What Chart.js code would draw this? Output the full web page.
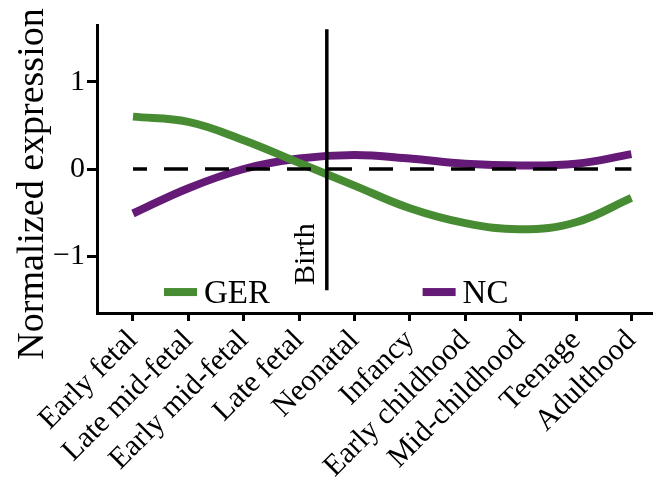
<!DOCTYPE html>
<html>
<head>
<meta charset="utf-8">
<script src="https://cdn.jsdelivr.net/npm/chart.js@4"></script>
<style>
  html, body { margin: 0; padding: 0; background: #fff; }
  #wrap { width: 659px; height: 488px; }
</style>
</head>
<body>
<div id="wrap"><canvas id="myChart" width="659" height="488"></canvas></div>
<script>
"use strict";

// developmental stages on the x axis
const stages = [
  "Early fetal",
  "Late mid-fetal",
  "Early mid-fetal",
  "Late fetal",
  "Neonatal",
  "Infancy",
  "Early childhood",
  "Mid-childhood",
  "Teenage",
  "Adulthood",
];
const gerValues = [0.6, 0.54, 0.33, 0.07, -0.19, -0.45, -0.62, -0.69, -0.61, -0.33];
const ncValues = [-0.51, -0.22, 0.0, 0.12, 0.16, 0.12, 0.06, 0.04, 0.06, 0.17];
const yTicks = [-1, 0, 1];
const birthAt = 3.5;

const serif = "'Liberation Serif', 'Times New Roman', serif";
const green = "#478c33";
const purple = "#651a78";

const toPoints = (vals) => vals.map((v, i) => ({ x: i, y: v }));

// y title, legend and "Birth" label
const extras = {
  id: "extras",
  afterDraw(chart) {
    const c = chart.ctx;
    const xs = chart.scales.x;
    const ys = chart.scales.y;

    c.save();
    c.fillStyle = "#000";
    c.font = "38px " + serif;
    c.textAlign = "center";
    c.textBaseline = "alphabetic";
    c.translate(43, 184);
    c.rotate(-Math.PI / 2);
    c.fillText("Normalized expression", 0, 0);
    c.restore();

    c.save();
    c.fillStyle = "#000";
    c.font = "30px " + serif;
    c.textBaseline = "alphabetic";
    c.translate(xs.getPixelForValue(birthAt) - 13, 285);
    c.rotate(-Math.PI / 2);
    c.fillText("Birth", 0, 0);
    c.restore();

    const items = [
      { label: "GER", color: green, x: 0.56 },
      { label: "NC", color: purple, x: 5.23 },
    ];
    const yy = ys.getPixelForValue(-1.41);
    c.save();
    items.forEach((it) => {
      const x0 = xs.getPixelForValue(it.x);
      c.fillStyle = it.color;
      c.fillRect(x0, yy - 4, 33, 8);
      c.fillStyle = "#000";
      c.font = "33px " + serif;
      c.textBaseline = "middle";
      c.fillText(it.label, x0 + 40, yy + 2);
    });
    c.restore();
  },
};

const ctx = document.getElementById("myChart");

new Chart(ctx, {
  type: "line",
  data: {
    datasets: [
      {
        label: "zero",
        data: [{ x: 0, y: 0 }, { x: 9, y: 0 }],
        borderColor: "#000",
        borderWidth: 3.5,
        borderDash: [24, 17],
        borderDashOffset: 10,
        pointRadius: 0,
      },
      {
        label: "Birth",
        data: [{ x: birthAt, y: -1.39 }, { x: birthAt, y: 1.6 }],
        borderColor: "#000",
        borderWidth: 3.5,
        pointRadius: 0,
      },
      {
        label: "GER",
        data: toPoints(gerValues),
        borderColor: green,
        borderWidth: 8,
        pointRadius: 0,
        tension: 0.4,
      },
      {
        label: "NC",
        data: toPoints(ncValues),
        borderColor: purple,
        borderWidth: 8,
        pointRadius: 0,
        tension: 0.4,
      },
    ],
  },
  options: {
    responsive: false,
    animation: false,
    layout: { padding: { left: 8, top: 25, right: 4, bottom: 0 } },
    plugins: {
      legend: { display: false },
      tooltip: { enabled: false },
    },
    scales: {
      x: {
        type: "linear",
        min: -0.65,
        max: 9.38,
        afterBuildTicks: (s) => {
          s.ticks = stages.map((_, i) => ({ value: i }));
        },
        afterFit: (s) => {
          s.height = 488 - 313;
        },
        ticks: {
          color: "#000",
          font: { family: serif, size: 30 },
          minRotation: 45,
          maxRotation: 45,
          autoSkip: false,
          padding: 2,
          callback: (v) => stages[v],
        },
        grid: {
          display: true,
          drawOnChartArea: false,
          drawTicks: true,
          tickLength: 8,
          tickWidth: 3,
          tickColor: "#000",
        },
        border: { display: true, color: "#000", width: 3 },
      },
      y: {
        min: -1.65,
        max: 1.65,
        afterBuildTicks: (s) => {
          s.ticks = yTicks.map((v) => ({ value: v }));
        },
        afterFit: (s) => {
          s.width = 97 - 8;
        },
        ticks: {
          color: "#000",
          font: { family: serif, size: 30 },
          padding: 2,
          callback: (v) => (v < 0 ? "\u2212" + Math.abs(v) : String(v)),
        },
        grid: {
          display: true,
          drawOnChartArea: false,
          drawTicks: true,
          tickLength: 10,
          tickWidth: 3,
          tickColor: "#000",
        },
        border: { display: true, color: "#000", width: 3 },
      },
    },
  },
  plugins: [extras],
});
</script>
</body>
</html>
